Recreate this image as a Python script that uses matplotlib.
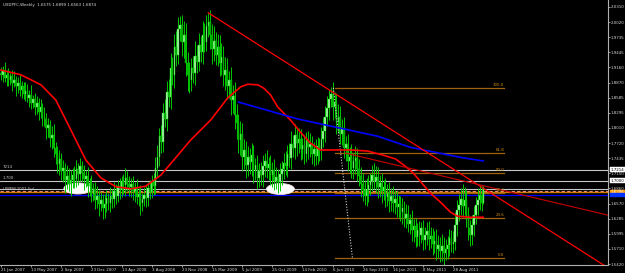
import matplotlib
matplotlib.use("Agg")
import matplotlib.pyplot as plt
from matplotlib.patches import Ellipse
import numpy as np

# ---------------- data ----------------
title_text = "USDPFC,Weekly  1.6575 1.6899 1.6563 1.6874"

closes = [
    1.902, 1.910, 1.896, 1.901, 1.893, 1.900, 1.886, 1.892, 1.880, 1.887,
    1.874, 1.880, 1.866, 1.872, 1.858, 1.864, 1.849, 1.856, 1.841, 1.848,
    1.832, 1.840, 1.822, 1.818, 1.800, 1.806, 1.782, 1.788, 1.762, 1.752,
    1.733, 1.741, 1.718, 1.724, 1.702, 1.710, 1.694, 1.702, 1.712, 1.704,
    1.722, 1.713, 1.728, 1.716, 1.704, 1.709, 1.690, 1.696, 1.676, 1.684,
    1.664, 1.672, 1.656, 1.663, 1.648, 1.656, 1.668, 1.659, 1.672, 1.665,
    1.680, 1.672, 1.690, 1.684, 1.700, 1.692, 1.706, 1.694, 1.688, 1.695,
    1.680, 1.686, 1.670, 1.676, 1.658, 1.666, 1.674, 1.668, 1.686, 1.679,
    1.698, 1.690, 1.725, 1.745, 1.785, 1.774, 1.830, 1.818, 1.870, 1.860,
    1.915, 1.902, 1.955, 1.940, 1.990, 1.997, 1.965, 1.978, 1.925, 1.902,
    1.892, 1.915, 1.905, 1.938, 1.926, 1.958, 1.945, 1.978, 1.965, 1.995,
    2.002, 1.978, 1.952, 1.966, 1.940, 1.955, 1.925, 1.936, 1.902, 1.912,
    1.880, 1.892, 1.854, 1.862, 1.825, 1.810, 1.778, 1.790, 1.745, 1.758,
    1.730, 1.746, 1.736, 1.750, 1.721, 1.730, 1.706, 1.718, 1.712, 1.728,
    1.738, 1.724, 1.732, 1.712, 1.720, 1.700, 1.708, 1.698, 1.714, 1.722,
    1.735, 1.728, 1.752, 1.744, 1.770, 1.762, 1.787, 1.772, 1.780, 1.760,
    1.768, 1.752, 1.778, 1.764, 1.770, 1.752, 1.760, 1.748, 1.766, 1.758,
    1.780, 1.795, 1.822, 1.838, 1.856, 1.866, 1.840, 1.850, 1.812, 1.822,
    1.790, 1.800, 1.762, 1.770, 1.738, 1.746, 1.724, 1.738, 1.744, 1.722,
    1.710, 1.694, 1.683, 1.672, 1.682, 1.692, 1.700, 1.712, 1.700, 1.708,
    1.688, 1.696, 1.680, 1.688, 1.670, 1.678, 1.662, 1.672, 1.658, 1.666,
    1.650, 1.656, 1.640, 1.648, 1.630, 1.638, 1.618, 1.626, 1.606, 1.614,
    1.594, 1.606, 1.598, 1.610, 1.588, 1.598, 1.604, 1.590, 1.596, 1.580,
    1.586, 1.570, 1.578, 1.566, 1.576, 1.562, 1.570, 1.578, 1.592, 1.580,
    1.584, 1.616, 1.645, 1.654, 1.666, 1.652, 1.664, 1.635, 1.611, 1.597,
    1.616, 1.635, 1.654, 1.664, 1.673, 1.658, 1.687,
]
first_open = 1.905

# upper / lower wick lengths (in units of 0.002)
wick_up = [
    6, 4, 8, 5, 7, 3, 6, 9, 4, 5,
    7, 5, 4, 8, 6, 5, 9, 4, 6, 7,
    5, 8, 4, 9, 6, 7, 5, 8, 10, 6,
    7, 9, 6, 8, 5, 10, 7, 9, 6, 8,
    9, 6, 8, 5, 7, 6, 9, 5, 8, 6,
    7, 9, 5, 8, 6, 10, 7, 5, 8, 6,
    9, 7, 6, 8, 5, 7, 9, 6, 8, 5,
    7, 6, 9, 5, 8, 6, 7, 9, 6, 8,
    7, 9, 10, 12, 8, 11, 9, 13, 10, 12,
    14, 10, 12, 15, 11, 8, 9, 13, 11, 10,
    12, 9, 11, 14, 10, 12, 9, 13, 11, 10,
    9, 12, 10, 14, 9, 12, 11, 13, 10, 12,
    11, 9, 12, 10, 13, 11, 9, 12, 10, 11,
    9, 10, 8, 11, 9, 7, 10, 8, 9, 11,
    8, 10, 7, 9, 8, 11, 9, 7, 10, 8,
    9, 11, 8, 10, 13, 9, 11, 8, 10, 9,
    7, 10, 8, 9, 11, 8, 7, 10, 9, 8,
    11, 13, 10, 12, 9, 6, 11, 10, 9, 12,
    10, 9, 11, 8, 10, 9, 12, 8, 11, 9,
    10, 8, 11, 9, 12, 10, 8, 9, 11, 10,
    9, 8, 10, 7, 9, 8, 10, 7, 9, 8,
    7, 9, 8, 10, 7, 9, 8, 6, 9, 7,
    8, 7, 9, 6, 8, 7, 9, 10, 8, 7,
    9, 11, 10, 8, 12, 9, 10, 9, 8, 7,
    10, 12, 9, 11, 10, 14, 12, 9, 8, 7,
    10, 9, 8, 11, 10, 9, 2,
]
wick_dn = [
    5, 7, 4, 8, 6, 5, 7, 4, 9, 6,
    6, 8, 5, 7, 4, 9, 6, 5, 8, 7,
    8, 6, 9, 7, 10, 8, 9, 11, 8, 10,
    9, 11, 8, 10, 12, 9, 7, 11, 8, 9,
    8, 10, 7, 9, 11, 8, 10, 9, 8, 7,
    9, 8, 11, 7, 10, 9, 8, 7, 9, 8,
    7, 8, 6, 9, 7, 8, 10, 7, 8, 9,
    8, 10, 7, 9, 11, 8, 7, 9, 8, 7,
    6, 8, 7, 9, 8, 10, 9, 8, 11, 10,
    12, 10, 13, 11, 9, 12, 14, 16, 13, 15,
    12, 10, 9, 11, 10, 8, 9, 11, 10, 9,
    11, 13, 15, 12, 10, 11, 13, 12, 11, 14,
    12, 11, 14, 12, 13, 15, 12, 14, 13, 11,
    12, 10, 11, 13, 12, 10, 11, 9, 10, 12,
    10, 9, 11, 10, 12, 9, 8, 10, 9, 11,
    9, 8, 10, 9, 11, 8, 10, 12, 9, 10,
    9, 10, 8, 11, 9, 10, 12, 9, 8, 10,
    9, 8, 10, 9, 11, 8, 12, 10, 11, 9,
    10, 11, 9, 12, 10, 11, 9, 10, 12, 11,
    10, 12, 11, 9, 10, 11, 9, 10, 8, 11,
    10, 9, 11, 8, 10, 9, 11, 10, 9, 10,
    9, 10, 8, 11, 9, 10, 8, 9, 10, 11,
    10, 9, 11, 8, 10, 9, 10, 11, 9, 10,
    9, 10, 8, 10, 9, 11, 6, 9, 10, 8,
    9, 8, 10, 11, 9, 10, 8, 11, 12, 10,
    9, 10, 8, 9, 10, 8, 1,
]

# thick red moving average (week index, price)
ma_weeks = [0, 10.6, 21.2, 29.1, 37.1, 45.0, 53.0, 61.0, 68.9, 76.8, 84.8,
            92.7, 100.7, 106.0, 111.3, 120.3, 127.2, 130.9, 136.2, 139.3,
            143.0, 146.8, 153.6, 158.9, 164.2, 169.5, 177.5, 185.4, 194.4,
            202.9, 209.3, 214.6, 218.8, 227.8, 233.1, 238.4, 242.1, 249.0, 255.9]
ma_prices = [1.911, 1.902, 1.883, 1.854, 1.797, 1.740, 1.706, 1.689, 1.685,
             1.690, 1.711, 1.744, 1.778, 1.797, 1.816, 1.858, 1.879, 1.884,
             1.883, 1.877, 1.864, 1.841, 1.816, 1.793, 1.772, 1.759, 1.759,
             1.759, 1.757, 1.749, 1.742, 1.728, 1.715, 1.677, 1.660, 1.641,
             1.633, 1.631, 1.631]

# blue long moving average
blue_weeks = [126.1, 157.4, 200.0, 217.2, 243.7, 255.9]
blue_prices = [1.850, 1.818, 1.785, 1.764, 1.745, 1.738]

# trend lines (two anchor points each)
trend1_weeks = [110.0, 322.0]
trend1_prices = [2.020, 1.535]
trend2_weeks = [182.8, 322.0]
trend2_prices = [1.753, 1.635]

# fibonacci retracement
fib_high = 1.877
fib_low = 1.5534
fib_ratios = [1.0, 0.618, 0.5, 0.382, 0.236, 0.0]
fib_labels = ["100.0", "61.8", "50.0", "38.2", "23.6", "0.0"]
fib_start, fib_end = 177.5, 267.0
fib_diag_weeks = [176.4, 186.5]

# horizontal levels
level_grey = [1.7214, 1.7000, 1.6850]
level_grey_text = ["7214", "1.700", ""]
level_pink = 1.6809
level_pink_text = "UPPER(2001.5y)"
level_orange = 1.6790
level_blue = 1.6733

# marked lows (ellipses): centre week, centre price
oval_weeks = [40.8, 148.3]
oval_prices = [1.6857, 1.6847]

# axis ticks
ytick_vals = [2.0310, 2.0020, 1.9735, 1.9445, 1.9160, 1.8870, 1.8585, 1.8295,
              1.8010, 1.7720, 1.7435, 1.7150, 1.6860, 1.6570, 1.6285, 1.5995,
              1.5710, 1.5420]
xtick_weeks = [0, 16, 32, 48, 64, 80, 96, 112, 128, 144, 160, 176, 192, 208, 224, 240]
xtick_labels = ["21 Jan 2007", "13 May 2007", "2 Sep 2007", "23 Dec 2007",
                "13 Apr 2008", "3 Aug 2008", "23 Nov 2008", "15 Mar 2009",
                "5 Jul 2009", "25 Oct 2009", "14 Feb 2010", "6 Jun 2010",
                "26 Sep 2010", "16 Jan 2011", "8 May 2011", "28 Aug 2011"]

# ---------------- figure ----------------
W, H = 625, 273
FS = 2.9
fig = plt.figure(figsize=(W / 100, H / 100), dpi=100, facecolor="black")
ax = fig.add_axes([0, 8 / H, 608 / W, 265 / H], facecolor="black")
ymin, ymax = 1.5401, 2.0443
xmax = 322.1
ax.set_xlim(-0.5, xmax)
ax.set_ylim(ymin, ymax)

closes_a = np.array(closes)
n = len(closes_a)
weeks = np.arange(n)
opens_a = np.concatenate([[first_open], closes_a[:-1]])
highs = np.maximum(opens_a, closes_a) + np.array(wick_up) * 0.002
lows = np.minimum(opens_a, closes_a) - np.array(wick_dn) * 0.002

# ovals (behind candles)
for ow, op in zip(oval_weeks, oval_prices):
    ax.add_patch(Ellipse((ow, op), 14.8, 0.021, facecolor="white",
                         edgecolor="#f0e0e0", lw=0.6, zorder=2))

# horizontal levels
for lv, tx in zip(level_grey, level_grey_text):
    ax.axhline(lv, color="#c8c8c8", lw=0.8, zorder=1.5)
    if tx:
        ax.text(1, lv + 0.0012, tx, color="#c8c8c8", fontsize=FS,
                va="bottom", ha="left", zorder=5)
ax.axhline(level_pink, color="#e89090", lw=0.8, ls=(0, (3, 2)), zorder=1.6)
ax.text(1, level_pink + 0.0008, level_pink_text, color="#c8c8c8", fontsize=FS,
        va="bottom", ha="left", zorder=5)
ax.axhline(level_orange, color="#d07a00", lw=1.0, zorder=1.6)
ax.axhline(level_blue, color="#0000ff", lw=0.9, zorder=1.6)

# fibonacci
fib_rng = fib_high - fib_low
for r, lab in zip(fib_ratios, fib_labels):
    lv = fib_low + r * fib_rng
    ax.plot([fib_start, fib_end], [lv, lv], color="#a0620c", lw=0.9, zorder=1.7)
    ax.text(fib_end, lv + 0.0015, lab, color="#d08a10", fontsize=FS,
            ha="right", va="bottom", zorder=5)
ax.plot(fib_diag_weeks, [fib_high, fib_low], color="#d0d0d0", lw=0.8,
        ls=(0, (1, 1.5)), zorder=3.5)

# candles
up = closes_a >= opens_a
ax.vlines(weeks, lows, highs, color="#00c800", lw=0.7, zorder=3)
body_bottom = np.minimum(opens_a, closes_a)
body_h = np.maximum(np.abs(closes_a - opens_a), 0.0008)
ax.bar(weeks[up], body_h[up], bottom=body_bottom[up], width=0.8,
       color="#b8f5b8", edgecolor="#00d000", lw=0.3, zorder=3.2)
ax.bar(weeks[~up], body_h[~up], bottom=body_bottom[~up], width=0.8,
       color="#00a800", edgecolor="#00c800", lw=0.3, zorder=3.2)

# moving averages and trend lines
ax.plot(ma_weeks, ma_prices, color="#ff0000", lw=1.2, zorder=4)
ax.plot(blue_weeks, blue_prices, color="#0000ff", lw=1.2, zorder=4)
ax.plot(trend1_weeks, trend1_prices, color="#ff0000", lw=0.9, zorder=4)
ax.plot(trend2_weeks, trend2_prices, color="#c80000", lw=0.8, zorder=4)

# axes styling
for s in ["top", "left"]:
    ax.spines[s].set_visible(False)
ax.spines["right"].set_color("#b0b0b0")
ax.spines["bottom"].set_color("#b0b0b0")
ax.spines["right"].set_linewidth(0.8)
ax.spines["bottom"].set_linewidth(0.8)
ax.yaxis.tick_right()
ax.set_yticks(ytick_vals)
ax.set_yticklabels([f"{v:.4f}" for v in ytick_vals])
ax.tick_params(axis="y", colors="#d8d8d8", labelsize=FS, length=1.2,
               width=0.5, pad=0.8)
ax.set_xticks(xtick_weeks)
ax.set_xticklabels(xtick_labels, ha="left")
ax.tick_params(axis="x", colors="#d8d8d8", labelsize=FS, length=1.2,
               width=0.5, pad=0.8)

# right side price boxes
box_specs = [(1.7214, "1.7214", "white", "black"),
             (1.7000, "1.7000", "white", "black"),
             (level_orange, "1.6796", "#ff9900", "white"),
             (level_blue, "1.6733", "#0033ff", "#0033ff")]
for lv, tx, bg, fg in box_specs:
    ax.text(1.004, lv, tx, transform=ax.get_yaxis_transform(), fontsize=FS,
            color=fg, va="center", ha="left", zorder=6, clip_on=False,
            bbox=dict(boxstyle="square,pad=0.12", facecolor=bg, edgecolor=bg, lw=0.3))

# header
fig.text(3 / W, 1 - 5 / H, title_text, color="#e0e0e0", fontsize=FS,
         va="center", ha="left")

fig.savefig("out.png", dpi=100, facecolor="black")
